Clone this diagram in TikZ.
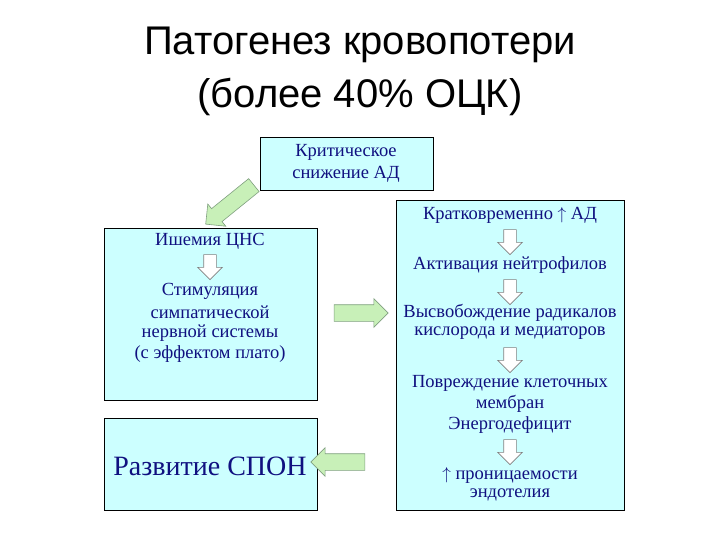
\documentclass[tikz,border=0pt]{standalone}
\usepackage{fontspec}
\setmainfont{Liberation Serif}
\newfontfamily\titlefont{Liberation Sans}
\usetikzlibrary{shapes.arrows}
\definecolor{boxfill}{HTML}{CCFFFF}
\definecolor{txt}{HTML}{101080}
\definecolor{gfill}{HTML}{C8F0B8}
\definecolor{gline}{HTML}{80A080}
\begin{document}
\begin{tikzpicture}[x=1pt,y=-1pt,
  box/.style={draw=black,line width=0.8pt,fill=boxfill},
  t/.style={text=txt,font=\fontsize{18.5}{20}\selectfont,inner sep=0pt},
  garrow/.style={single arrow,draw=gline,fill=gfill,inner sep=8pt,single arrow head extend=6pt,line width=0.6pt},
  warrow/.style={single arrow,draw=gray,fill=white,shape border rotate=270,inner sep=6pt,single arrow head extend=6pt,minimum height=25pt,line width=0.6pt}]
\useasboundingbox (0,0) rectangle (720,540);
\fill[white] (0,0) rectangle (720,540);
\node[font=\titlefont\fontsize{40}{44}\selectfont] (t1) at (360,45) {Патогенез кровопотери};
\node[font=\titlefont\fontsize{40}{44}\selectfont] (t2) at (360,97) {(более 40\% ОЦК)};
\draw[box] (260,137) rectangle (433,190);
\draw[box] (104,228) rectangle (317,400);
\draw[box] (104,418) rectangle (317,510);
\draw[box] (396,200) rectangle (624,510);
\node[t] (a) at (346,152) {Критическое};
\node[t] (a2) at (346,174) {снижение АД};
% left box
\node[t] (l1) at (210,241) {Ишемия ЦНС};
\node[warrow] (la) at (210,264) {};
\node[t] (l2) at (210,291) {Стимуляция};
\node[t] (l3) at (210,312) {симпатической};
\node[t] (l4) at (210,333) {нервной системы};
\node[t] (l5) at (210,354) {(с эффектом плато)};
\node[text=txt,font=\fontsize{28}{30}\selectfont,inner sep=0pt] (spon) at (210,466) {Развитие СПОН};
% right box
\node[t] (r1) at (510,215) {Кратковременно $\uparrow$ АД};
\node[warrow] (ra1) at (510,239) {};
\node[t] (r2) at (510,265) {Активация нейтрофилов};
\node[warrow] (ra2) at (510,289) {};
\node[t] (r3) at (510,313) {Высвобождение радикалов};
\node[t] (r4) at (510,333) {кислорода и медиаторов};
\node[warrow] (ra3) at (510,357) {};
\node[t] (r5) at (510,383) {Повреждение клеточных};
\node[t] (r6) at (510,404) {мембран};
\node[t] (r7) at (510,425) {Энергодефицит};
\node[warrow] (ra4) at (510,449) {};
\node[t] (r8) at (510,475) {$\uparrow$ проницаемости};
\node[t] (r9) at (510,495) {эндотелия};
% green arrows
\node[garrow,minimum height=62pt,rotate=-141] (g1) at (233,202) {};
\node[garrow,minimum height=54pt] (g2) at (357,313) {};
\node[garrow,minimum height=54pt,shape border rotate=180] (g3) at (342,462) {};
\end{tikzpicture}
\end{document}
